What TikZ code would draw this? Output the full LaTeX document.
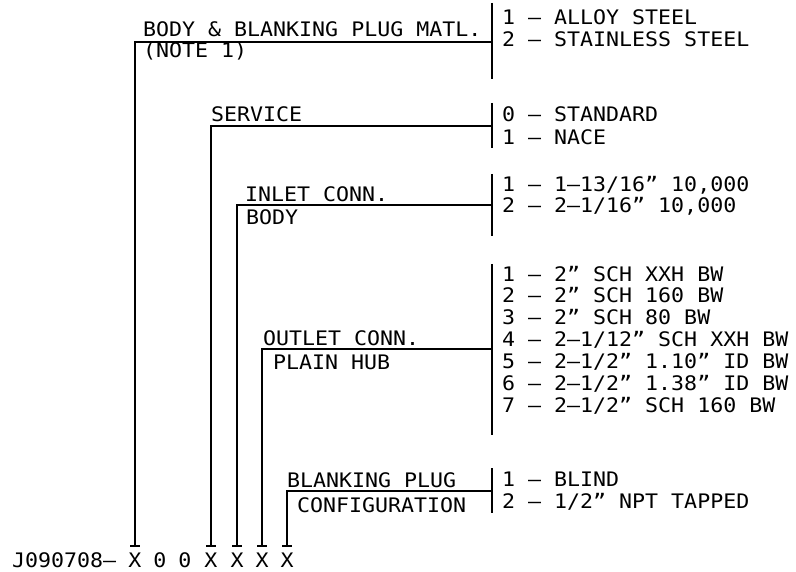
\documentclass[tikz,border=0pt]{standalone}
\usepackage{fontspec}
\usepackage{tikz}
\newfontfamily\cadfont{DejaVu Sans Mono}[FakeStretch=1.08]

\begin{document}
\begin{tikzpicture}[x=1pt, y=-1pt,
    lbl/.style={anchor=base west, inner sep=0pt, font=\cadfont\fontsize{20}{22}\selectfont},
    digit/.style={anchor=base, inner xsep=0pt, inner ysep=6pt, font=\cadfont\fontsize{20}{22}\selectfont},
    ln/.style={line width=1.5pt}
]
\useasboundingbox (0,0) rectangle (796,572);

% Part number
\node[lbl] (pn) at (12, 567) {J090708—};
\node[digit] (xmat) at (135, 567) {X};
\node[digit] (zero1) at (160, 567) {0};
\node[digit] (zero2) at (185, 567) {0};
\node[digit] (xsrv) at (211, 567) {X};
\node[digit] (xinl) at (237, 567) {X};
\node[digit] (xout) at (262, 567) {X};
\node[digit] (xblk) at (287, 567) {X};

% Body & blanking plug material
\node[lbl] (matl) at (143, 37) {BODY \& BLANKING PLUG MATL.};
\node[lbl] (note) at (143, 58) {(NOTE 1)};
\node[lbl] (mat1) at (502, 25) {1 — ALLOY STEEL};
\node[lbl] (mat2) at (502, 47) {2 — STAINLESS STEEL};
\coordinate (jmat) at (492, 42);
\draw[ln] (492, 3) -- (492, 79);

% Service
\node[lbl] (srv) at (211, 122) {SERVICE};
\node[lbl] (srv0) at (502, 122) {0 — STANDARD};
\node[lbl] (srv1) at (502, 145) {1 — NACE};
\coordinate (jsrv) at (492, 126);
\draw[ln] (492, 103) -- (492, 148);

% Inlet connection
\node[lbl] (inl) at (245, 202) {INLET CONN.};
\node[lbl] (body) at (246, 225) {BODY};
\node[lbl] (inl1) at (502, 192) {1 — 1—13/16” 10,000};
\node[lbl] (inl2) at (502, 213) {2 — 2—1/16” 10,000};
\coordinate (jinl) at (492, 205);
\draw[ln] (492, 174) -- (492, 236);

% Outlet connection
\node[lbl] (out) at (263, 345) {OUTLET CONN.};
\node[lbl] (hub) at (273, 370) {PLAIN HUB};
\node[lbl] (out1) at (502, 282) {1 — 2” SCH XXH BW};
\node[lbl] (out2) at (502, 303) {2 — 2” SCH 160 BW};
\node[lbl] (out3) at (502, 325) {3 — 2” SCH 80 BW};
\node[lbl] (out4) at (502, 347) {4 — 2—1/12” SCH XXH BW};
\node[lbl] (out5) at (502, 368) {5 — 2—1/2” 1.10” ID BW};
\node[lbl] (out6) at (502, 390) {6 — 2—1/2” 1.38” ID BW};
\node[lbl] (out7) at (502, 412) {7 — 2—1/2” SCH 160 BW};
\coordinate (jout) at (492, 349);
\draw[ln] (492, 264) -- (492, 435);

% Blanking plug
\node[lbl] (blk) at (287, 487) {BLANKING PLUG};
\node[lbl] (cfg) at (297, 512) {CONFIGURATION};
\node[lbl] (blk1) at (502, 486) {1 — BLIND};
\node[lbl] (blk2) at (502, 508) {2 — 1/2” NPT TAPPED};
\coordinate (jblk) at (492, 491);
\draw[ln] (492, 468) -- (492, 513);

% Leaders from digits to choices
\draw[ln] (xmat.north) |- (jmat);
\draw[ln] (xsrv.north) |- (jsrv);
\draw[ln] (xinl.north) |- (jinl);
\draw[ln] (xout.north) |- (jout);
\draw[ln] (xblk.north) |- (jblk);

% Ticks over the digits
\draw[ln] ([xshift=-5pt]xmat.north) -- ([xshift=5pt]xmat.north);
\draw[ln] ([xshift=-5pt]xsrv.north) -- ([xshift=5pt]xsrv.north);
\draw[ln] ([xshift=-5pt]xinl.north) -- ([xshift=5pt]xinl.north);
\draw[ln] ([xshift=-5pt]xout.north) -- ([xshift=5pt]xout.north);
\draw[ln] ([xshift=-5pt]xblk.north) -- ([xshift=5pt]xblk.north);
\end{tikzpicture}
\end{document}
